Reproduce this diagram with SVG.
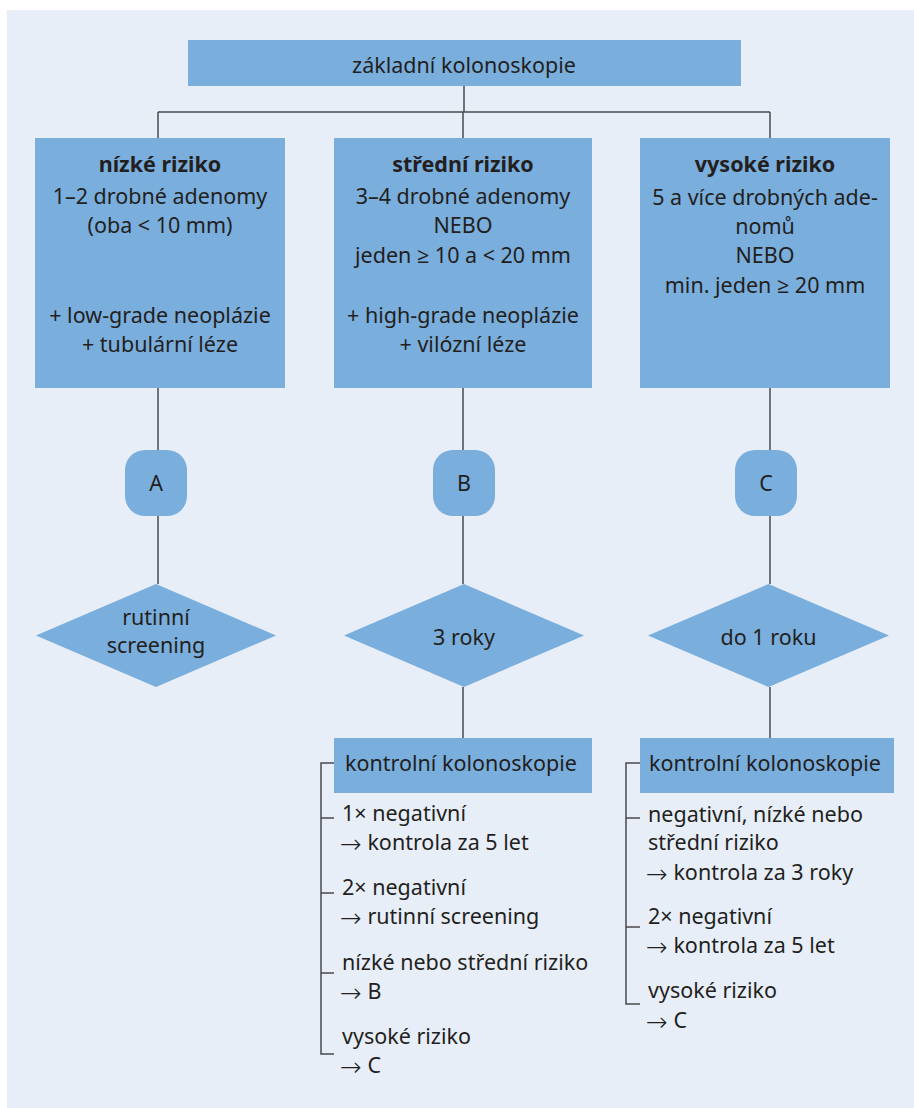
<svg xmlns="http://www.w3.org/2000/svg" width="914" height="1108" viewBox="0 0 914 1108">
<style>
.box{fill:#7aaedd}
.ln{stroke:#4a4a4c;stroke-width:1.5;fill:none}
text{font-family:"Noto Sans","Open Sans",sans-serif;font-size:21.5px;fill:#231f20}
.c{text-anchor:middle}
.b{font-weight:bold}
.ar{font-family:"DejaVu Sans",sans-serif;font-size:26px;font-weight:200}
</style>
<rect x="7" y="10" width="907" height="1098" fill="#e7eef8"/>
<g id="connectors" class="ln">
<path d="M464 86V112M158 112H770M158 112V138M463 112V138M770 112V138"/>
<path d="M158 388V450M158 516V584"/>
<path d="M463 388V450M463 516V584M463 687V738"/>
<path d="M770 388V450M770 516V584M770 687V738"/>
<path d="M334 763H321V1054H334M321 818H334M321 893H334M321 973H334"/>
<path d="M640 763H626V1004H640M626 818H640M626 927H640"/>
</g>
<g id="start"><rect class="box" x="188" y="40" width="553" height="46"/><text class="c" x="464" y="73">základní kolonoskopie</text></g>
<g id="low"><rect class="box" x="35" y="138" width="250" height="250"/>
<text class="c b" x="160" y="172">nízké riziko</text>
<text class="c" x="160" y="204">1–2 drobné adenomy</text>
<text class="c" x="160" y="233">(oba &lt; 10 mm)</text>
<text class="c" x="160" y="323">+ low-grade neoplázie</text>
<text class="c" x="160" y="352">+ tubulární léze</text></g>
<g id="mid"><rect class="box" x="334" y="138" width="258" height="250"/>
<text class="c b" x="463" y="172">střední riziko</text>
<text class="c" x="463" y="204">3–4 drobné adenomy</text>
<text class="c" x="463" y="233">NEBO</text>
<text class="c" x="463" y="263">jeden ≥ 10 a &lt; 20 mm</text>
<text class="c" x="463" y="323">+ high-grade neoplázie</text>
<text class="c" x="463" y="352">+ vilózní léze</text></g>
<g id="high"><rect class="box" x="640" y="138" width="250" height="250"/>
<text class="c b" x="765" y="172">vysoké riziko</text>
<text class="c" x="765" y="205">5 a více drobných ade-</text>
<text class="c" x="765" y="234">nomů</text>
<text class="c" x="765" y="263">NEBO</text>
<text class="c" x="765" y="293">min. jeden ≥ 20 mm</text></g>
<g id="A"><rect class="box" x="125" y="450" width="62" height="66" rx="20"/><text class="c" x="156" y="491">A</text></g>
<g id="B"><rect class="box" x="433" y="450" width="62" height="66" rx="20"/><text class="c" x="464" y="491">B</text></g>
<g id="C"><rect class="box" x="735" y="450" width="62" height="66" rx="20"/><text class="c" x="766" y="491">C</text></g>
<g id="dA"><polygon class="box" points="156,584 276,635.5 156,687 36,635.5"/><text class="c" x="156" y="625">rutinní</text><text class="c" x="156" y="653">screening</text></g>
<g id="dB"><polygon class="box" points="464,584 584,635.5 464,687 344,635.5"/><text class="c" x="464" y="645">3 roky</text></g>
<g id="dC"><polygon class="box" points="768.5,584 889,635.5 768.5,687 648,635.5"/><text class="c" x="768.5" y="645">do 1 roku</text></g>
<g id="kB"><rect class="box" x="334" y="738" width="258" height="55"/><text x="345" y="771">kontrolní kolonoskopie</text>
<text x="342" y="821">1× negativní</text>
<text x="340" y="850"><tspan class="ar" dy="3">→</tspan><tspan dy="-3"> kontrola za 5 let</tspan></text>
<text x="342" y="895">2× negativní</text>
<text x="340" y="924"><tspan class="ar" dy="3">→</tspan><tspan dy="-3"> rutinní screening</tspan></text>
<text x="342" y="970">nízké nebo střední riziko</text>
<text x="340" y="999"><tspan class="ar" dy="3">→</tspan><tspan dy="-3"> B</tspan></text>
<text x="342" y="1044">vysoké riziko</text>
<text x="340" y="1073"><tspan class="ar" dy="3">→</tspan><tspan dy="-3"> C</tspan></text></g>
<g id="kC"><rect class="box" x="640" y="738" width="254" height="55"/><text x="649" y="771">kontrolní kolonoskopie</text>
<text x="648" y="822">negativní, nízké nebo</text>
<text x="648" y="850">střední riziko</text>
<text x="646" y="880"><tspan class="ar" dy="3">→</tspan><tspan dy="-3"> kontrola za 3 roky</tspan></text>
<text x="648" y="924">2× negativní</text>
<text x="646" y="953"><tspan class="ar" dy="3">→</tspan><tspan dy="-3"> kontrola za 5 let</tspan></text>
<text x="648" y="998">vysoké riziko</text>
<text x="646" y="1028"><tspan class="ar" dy="3">→</tspan><tspan dy="-3"> C</tspan></text></g>
</svg>
